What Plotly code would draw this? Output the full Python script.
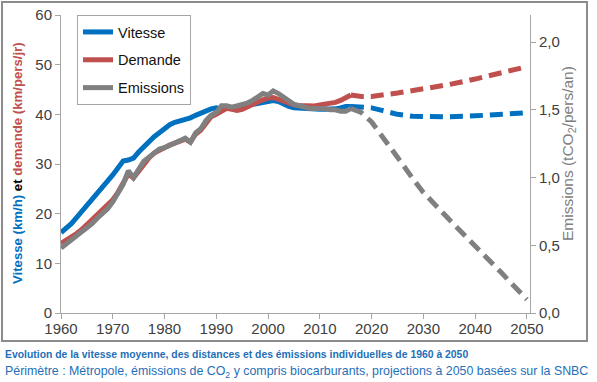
import plotly.graph_objects as go

years_hist = list(range(1960, 2017))
vitesse_hist = [16.2, 17.0, 18.0, 19.2, 20.4, 21.8, 22.8, 23.9, 25.2, 26.5,
                27.8, 29.2, 30.6, 30.8, 31.2, 32.4, 33.5, 34.5, 35.5, 36.3,
                37.2, 37.9, 38.4, 38.7, 38.9, 39.3, 39.8, 40.3, 40.7, 41.1,
                41.3, 41.0, 41.2, 41.3, 41.3, 41.5, 41.8, 42.0, 42.2, 42.5,
                42.6, 42.8, 42.6, 42.0, 41.6, 41.3, 41.2, 41.2, 41.1, 41.0,
                41.0, 41.0, 41.0, 41.1, 41.3, 41.6, 41.6]
demande_hist = [14.0, 14.6, 15.3, 16.0, 16.8, 17.8, 18.6, 19.6, 20.6, 21.6,
                22.8, 24.3, 26.0, 28.0, 27.2, 28.6, 30.2, 31.2, 32.2, 32.8,
                33.2, 33.8, 34.2, 34.6, 35.0, 34.4, 36.0, 36.8, 38.3, 39.5,
                40.0, 40.5, 41.2, 41.0, 40.8, 41.0, 41.6, 42.0, 42.5, 43.0,
                43.3, 43.4, 43.0, 42.5, 42.3, 41.9, 41.8, 41.8, 41.6, 41.7,
                41.9, 42.0, 42.1, 42.4, 42.8, 43.5, 43.9]
emissions_hist = [0.48, 0.51, 0.53, 0.56, 0.59, 0.62, 0.66, 0.70, 0.73, 0.77,
                  0.82, 0.88, 0.95, 1.05, 1.00, 1.06, 1.12, 1.15, 1.18, 1.21,
                  1.22, 1.24, 1.26, 1.27, 1.29, 1.26, 1.33, 1.36, 1.42, 1.46,
                  1.48, 1.53, 1.53, 1.52, 1.53, 1.54, 1.55, 1.57, 1.60, 1.62,
                  1.61, 1.64, 1.62, 1.59, 1.57, 1.54, 1.53, 1.52, 1.51, 1.51,
                  1.51, 1.51, 1.50, 1.50, 1.49, 1.49, 1.51]

years_proj = [2016, 2018, 2020, 2022, 2025, 2028, 2030, 2035, 2040, 2045, 2050]
vitesse_proj = [41.6, 41.5, 41.3, 40.8, 40.0, 39.6, 39.5, 39.5, 39.7, 40.0, 40.3]
demande_proj = [43.9, 43.6, 43.6, 43.8, 44.3, 44.8, 45.1, 46.0, 47.1, 48.3, 49.6]
emissions_proj = [1.51, 1.48, 1.41, 1.31, 1.15, 0.99, 0.89, 0.69, 0.50, 0.30, 0.10]

x_ticks = [1960, 1970, 1980, 1990, 2000, 2010, 2020, 2030, 2040, 2050]

BLUE = "#0070C0"
RED = "#C0504D"
GRAY = "#808080"
TXT = "#404040"
AX = "#A6A6A6"
CAP = "#1F6FB8"
FONT = "Liberation Sans, Arial, sans-serif"
LW = 5
DASH = "13px,7px"

fig = go.Figure()
fig.add_trace(go.Scatter(x=years_hist, y=vitesse_hist, mode="lines", name="Vitesse",
                         line=dict(color=BLUE, width=LW), legendgroup="v"))
fig.add_trace(go.Scatter(x=years_hist, y=demande_hist, mode="lines", name="Demande",
                         line=dict(color=RED, width=LW), legendgroup="d"))
fig.add_trace(go.Scatter(x=years_proj, y=vitesse_proj, mode="lines", showlegend=False,
                         line=dict(color=BLUE, width=LW, dash=DASH)))
fig.add_trace(go.Scatter(x=years_proj, y=demande_proj, mode="lines", showlegend=False,
                         line=dict(color=RED, width=LW, dash=DASH)))
fig.add_trace(go.Scatter(x=years_hist, y=emissions_hist, mode="lines", name="Emissions",
                         line=dict(color=GRAY, width=LW), yaxis="y2", legendgroup="e"))
fig.add_trace(go.Scatter(x=years_proj, y=emissions_proj, mode="lines", showlegend=False,
                         line=dict(color=GRAY, width=LW, dash=DASH), yaxis="y2"))

L, R, T, B = 61, 67, 15, 69
W, H = 597, 382
pw, ph = W - L - R, H - T - B

def px(xp):
    return (xp - L) / pw

def py(yp):
    return (H - B - yp) / ph

fig.update_layout(
    width=W, height=H,
    margin=dict(l=L, r=R, t=T, b=B, autoexpand=False),
    paper_bgcolor="white", plot_bgcolor="white",
    separators=", ",
    font=dict(family=FONT, size=14, color=TXT),
    showlegend=True,
    legend=dict(x=px(77), y=1.0, xanchor="left", yanchor="top",
                bordercolor=AX, borderwidth=1, bgcolor="white",
                font=dict(size=14.5, color="#111111"), itemwidth=30,
                tracegroupgap=6),
    xaxis=dict(range=[1960, 2050.6], tickvals=x_ticks, showgrid=False, zeroline=False,
               showline=True, linecolor=AX, linewidth=1, automargin=False,
               ticks="outside", ticklen=5, tickcolor=AX, ticklabelstandoff=-3,
               tickfont=dict(size=15, color=TXT)),
    yaxis=dict(range=[0, 60], dtick=10, showgrid=False, zeroline=False,
               showline=True, linecolor=AX, linewidth=1, automargin=False,
               ticks="outside", ticklen=5, tickcolor=AX,
               tickfont=dict(size=15, color=TXT)),
    yaxis2=dict(range=[0, 2.2], dtick=0.5, tickformat=".1f", overlaying="y", side="right",
                showgrid=False, zeroline=False, showline=True, linecolor=AX,
                linewidth=1, ticks="outside", ticklen=5, tickcolor=AX, automargin=False,
                tickfont=dict(size=15, color=TXT)),
)

# Axis titles
fig.add_annotation(xref="paper", yref="paper", x=px(18), y=py(163), textangle=-90,
                   xanchor="center", yanchor="middle", showarrow=False,
                   text="<b><span style='color:#0070C0'>Vitesse (km/h)</span>"
                        "<span style='color:#000000'> et </span>"
                        "<span style='color:#C0504D'>demande (km/pers/jr)</span></b>",
                   font=dict(size=13.2))
fig.add_annotation(xref="paper", yref="paper", x=px(568), y=py(154), textangle=-90,
                   xanchor="center", yanchor="middle", showarrow=False,
                   text="Emissions (tCO<sub>2</sub>/pers/an)",
                   font=dict(size=15.5, color=GRAY))

fig.add_shape(type="rect", xref="paper", yref="paper",
              x0=px(2), x1=px(587), y0=py(341), y1=py(2),
              line=dict(color="#8C8C8C", width=2), fillcolor="rgba(0,0,0,0)", layer="below")

fig.add_annotation(xref="paper", yref="paper", x=px(3), y=py(354), xanchor="left",
                   yanchor="middle", showarrow=False,
                   text="<b>Evolution de la vitesse moyenne, des distances et des émissions individuelles de 1960 à 2050</b>",
                   font=dict(size=10.4, color=CAP))
fig.add_annotation(xref="paper", yref="paper", x=px(3), y=py(372), xanchor="left",
                   yanchor="middle", showarrow=False,
                   text="Périmètre : Métropole, émissions de CO<sub>2</sub> y compris biocarburants, projections à 2050 basées sur la SNBC",
                   font=dict(size=12.4, color=CAP))

fig.write_html("out.html", config={"displayModeBar": False},
               post_script="document.body.style.margin='0px';")
